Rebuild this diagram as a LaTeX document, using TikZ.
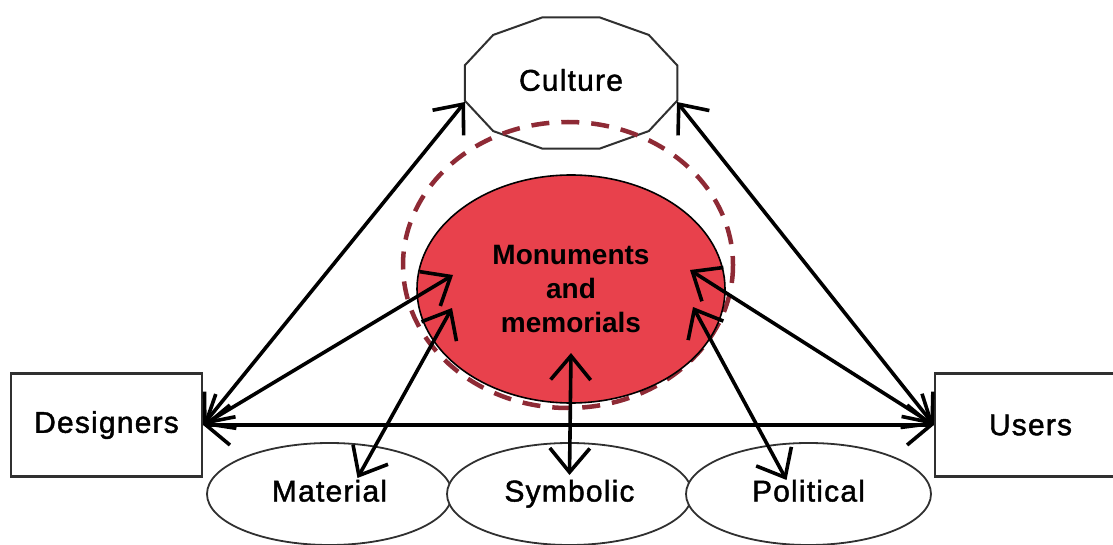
\documentclass[tikz,border=0pt]{standalone}
\usepackage{fontspec}
\setmainfont{Liberation Sans}
\newfontfamily\labelfont[LetterSpace=4, FakeBold=1.5]{Liberation Sans}
\usetikzlibrary{shapes.geometric, arrows.meta, positioning, calc}
\definecolor{monred}{HTML}{E8414C}
\definecolor{ringred}{HTML}{8E2A35}
\definecolor{edgegray}{HTML}{303030}

\begin{document}
\begin{tikzpicture}[x=1pt, y=-1pt,
    box/.style={draw=edgegray, line width=2.2pt, fill=white, minimum width=191pt, minimum height=103pt,
      font={\labelfont\fontsize{30}{36}\selectfont}},
    facet/.style={ellipse, draw=edgegray, line width=1.8pt, fill=white, inner sep=0pt,
      minimum width=245pt, minimum height=102pt, text height=21pt, text depth=6pt,
      font={\labelfont\fontsize{30}{36}\selectfont}},
    link/.style={line width=3.6pt, {Straight Barb[length=24pt,width=40pt]}-{Straight Barb[length=24pt,width=40pt]}}]
        \useasboundingbox (0,0) rectangle (1113,545);
        \clip (0,0) rectangle (1113,545);
        % Culture (Zwoelfeck)
        \filldraw[fill=white, draw=edgegray, line width=2pt]
          plot[samples at={15,45,...,345}] ({571+110*cos(\x)},{83+68*sin(\x)}) -- cycle;
        \node[font={\labelfont\fontsize{30}{36}\selectfont}] (culture) at (571,80) {Culture};
        \coordinate (culture-l) at (465,102);
        \coordinate (culture-r) at (677,102);
        % gestrichelter Ring
        \draw[ringred, line width=4.5pt, dash pattern=on 18pt off 12pt] (568,265) ellipse [x radius=165, y radius=143];
        % Monuments and memorials
        \node[ellipse, draw=black, line width=1.6pt, fill=monred, inner sep=0pt, minimum width=308pt, minimum height=228pt,
          align=center, font={\bfseries\fontsize{28}{34}\selectfont}] (monuments) at (571,289) {Monuments\\and\\memorials};
        % Boxen
        \node[box] (designers) at (106.5,425) {Designers};
        \node[box] (users) at (1030.5,425) {Users};
        % Aspekte unten
        \node[facet] (material) at (329.5,494) {Material};
        \node[facet] (symbolic) at (569.5,494) {Symbolic};
        \node[facet] (political) at (808.5,494) {Political};
        % Endpunkte
        \coordinate (m-d) at ($(monuments)+(-118,-14)$);
        \coordinate (m-ma) at ($(monuments)+(-119,19)$);
        \coordinate (m-s) at ($(monuments)+(0,64)$);
        \coordinate (m-u) at ($(monuments)+(119,-19)$);
        \coordinate (m-p) at ($(monuments)+(122,18)$);
        \coordinate (ma-top) at ($(material)+(28,-16)$);
        \coordinate (sy-top) at ($(symbolic)+(0,-19)$);
        \coordinate (po-top) at ($(political)+(-22,-14)$);
        % Pfeile
        \draw[link] (designers.east) -- (culture-l);
        \draw[link] (designers.east) -- (m-d);
        \draw[link] (designers.east) -- (users.west);
        \draw[link] (culture-r) -- (users.west);
        \draw[link] (m-u) -- (users.west);
        \draw[link] (m-ma) -- (ma-top);
        \draw[link] (m-s) -- (sy-top);
        \draw[link] (m-p) -- (po-top);
      \end{tikzpicture}
\end{document}
